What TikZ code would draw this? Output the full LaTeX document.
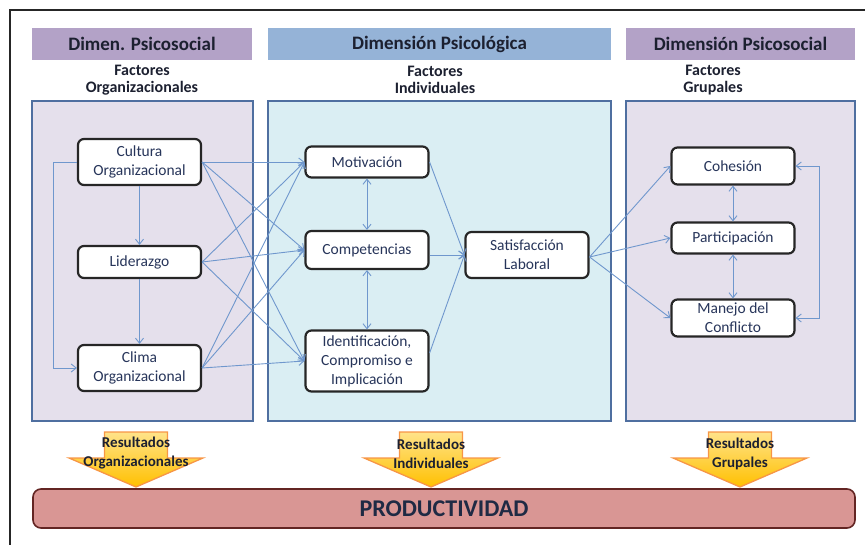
\documentclass[tikz,border=0pt]{standalone}
\usepackage{fontspec}
\setmainfont{Carlito}
\usetikzlibrary{arrows.meta,calc}
\definecolor{hdrpurple}{HTML}{B3A2C7}
\definecolor{hdrblue}{HTML}{95B3D7}
\definecolor{panelpurple}{HTML}{E5E0EC}
\definecolor{panelblue}{HTML}{DAEEF3}
\definecolor{panelborder}{HTML}{4F6FA0}
\definecolor{connc}{HTML}{6F97CD}
\definecolor{boxborder}{HTML}{262626}
\definecolor{nodetext}{HTML}{27355A}
\definecolor{hdrtext}{HTML}{1C2030}
\definecolor{prodfill}{HTML}{D99694}
\definecolor{prodborder}{HTML}{632523}
\definecolor{prodtext}{HTML}{1F2A44}
\definecolor{arrtop}{HTML}{FFE38A}
\definecolor{arrbot}{HTML}{FFC000}
\definecolor{arrborder}{HTML}{F79646}
\begin{document}
\begin{tikzpicture}[x=1pt,y=-1pt,
  hdr/.style={minimum height=32pt, inner sep=0pt, text=hdrtext, font=\fontsize{19}{22}\selectfont\bfseries},
  factlabel/.style={align=center, text=hdrtext, font=\fontsize{16}{17}\selectfont\bfseries},
  panel/.style={draw=panelborder, line width=2pt, minimum height=320pt, inner sep=0pt},
  box/.style={draw=boxborder, line width=2.2pt, rounded corners=6pt, fill=white, minimum width=123pt, align=center, text=nodetext, inner sep=1pt, font=\fontsize{15.5}{19}\selectfont},
  conn/.style={draw=connc, line width=0.9pt, -{Straight Barb[length=5pt,width=8pt]}},
  biconn/.style={draw=connc, line width=0.9pt, {Straight Barb[length=5pt,width=8pt]}-{Straight Barb[length=5pt,width=8pt]}},
  blockarrow/.style={top color=arrtop, bottom color=arrbot, draw=arrborder, line width=1.3pt},
  restext/.style={align=center, text=hdrtext, font=\fontsize{15}{19}\selectfont\bfseries}
]
\useasboundingbox (0,0) rectangle (865,545);
% outer frame
\draw[line width=2.2pt, color=black!85] (10,545) -- (10,10) -- (865,10);

% headers
\node[hdr, fill=hdrpurple, minimum width=220pt] (h1) at (142,44) {Dimen. Psicosocial};
\node[hdr, fill=hdrblue, minimum width=343pt] (h2) at (439.5,44) {Dimensión Psicológica};
\node[hdr, fill=hdrpurple, minimum width=229pt] (h3) at (740.5,44) {Dimensión Psicosocial};

% factor labels
\node[factlabel] (f1) at (142,80) {Factores\\Organizacionales};
\node[factlabel] (f2) at (435,80) {Factores\\Individuales};
\node[factlabel] (f3) at (713,80) {Factores\\Grupales};

% panels
\node[panel, fill=panelpurple, minimum width=221pt] (p1) at (142.5,261) {};
\node[panel, fill=panelblue, minimum width=343pt] (p2) at (439.5,261) {};
\node[panel, fill=panelpurple, minimum width=229pt] (p3) at (740.5,261) {};

% boxes
\node[box, minimum height=46pt] (cul) at (139.5,162) {Cultura\\Organizacional};
\node[box, minimum height=32pt] (lid) at (139.5,262) {Liderazgo};
\node[box, minimum height=46pt] (cli) at (139.5,368) {Clima\\Organizacional};
\node[box, minimum height=31pt] (mot) at (367,162) {Motivación};
\node[box, minimum height=38pt] (com) at (367,250) {Competencias};
\node[box, minimum height=61pt] (ide) at (367,361) {Identificación,\\Compromiso e\\Implicación};
\node[box, minimum height=46pt] (sat) at (527,255) {Satisfacción\\Laboral};
\node[box, minimum height=37pt] (coh) at (733,166) {Cohesión};
\node[box, minimum height=31pt] (par) at (733,238) {Participación};
\node[box, minimum height=37pt] (man) at (733,318) {Manejo del\\Conflicto};

% left panel connectors
\draw[conn] (cul) -- (lid);
\draw[conn] (lid) -- (cli);
\draw[conn] (cul.west) -- ++(-23,0) |- (cli.west);

% left -> middle
\foreach \s in {cul,lid,cli}{
  \foreach \t in {mot,com,ide}{
    \draw[conn] (\s.east) -- (\t.west);
  }
}

% middle
\draw[biconn] (mot) -- (com);
\draw[biconn] (com) -- (ide);
\draw[conn] (mot.east) -- (sat.west);
\draw[conn] (com.east |- sat.west) -- (sat.west);
\draw[conn] ([yshift=8pt]ide.east) -- (sat.west);

% middle -> right
\draw[conn] ([yshift=-2pt]sat.east) -- (coh.west);
\draw[conn] ([yshift=-2pt]sat.east) -- (par.west);
\draw[conn] ([yshift=-2pt]sat.east) -- (man.west);

% right panel
\draw[biconn] (coh) -- (par);
\draw[biconn] (par) -- (man);
\draw[biconn] (coh.east) -- ++(24,0) |- (man.east);

% block arrows
\foreach \cx in {136,431,740}{
  \shade[blockarrow] (\cx-31.5,432) -- (\cx+31.5,432) -- (\cx+31.5,458) -- (\cx+67,458) -- (\cx,487) -- (\cx-67,458) -- (\cx-31.5,458) -- cycle;
}
\node[restext] (r1) at (136,453.5) {Resultados\\Organizacionales};
\node[restext] (r2) at (431,453.5) {Resultados\\Individuales};
\node[restext] (r3) at (740,453.5) {Resultados\\Grupales};

% productividad
\node[draw=prodborder, fill=prodfill, line width=1.6pt, rounded corners=8pt, minimum width=822pt, minimum height=39pt, inner sep=0pt, text=prodtext, font=\fontsize{24}{26}\selectfont\bfseries] (prod) at (444,508.5) {PRODUCTIVIDAD};
\end{tikzpicture}
\end{document}
